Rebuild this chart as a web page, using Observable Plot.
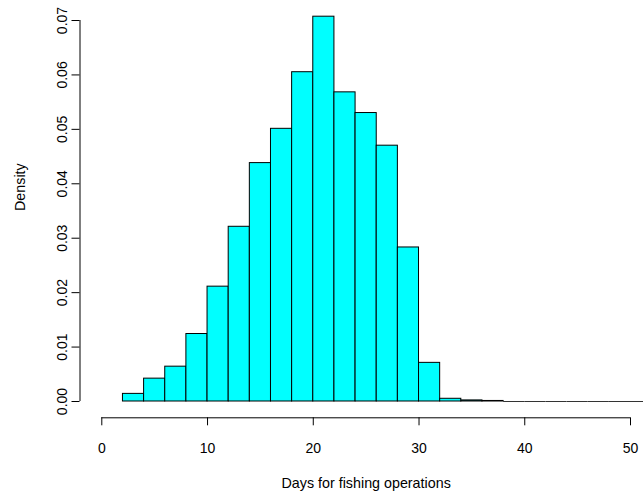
<!DOCTYPE html>
<html>
<head>
<meta charset="utf-8">
<script src="https://cdn.jsdelivr.net/npm/d3@7"></script>
<script src="https://cdn.jsdelivr.net/npm/@observablehq/plot@0.6"></script>
<style>
  html, body { margin: 0; padding: 0; background: #fff; }
</style>
</head>
<body>
<div id="chart"></div>
<script>
// Histogram breaks (days) and densities
const breaks = [2, 4, 6, 8, 10, 12, 14, 16, 18, 20, 22, 24, 26, 28, 30, 32, 34, 36, 38, 40, 42, 44, 46, 48, 50, 52];
const densities = [0.0014, 0.0042, 0.0064, 0.0124, 0.0211, 0.0321, 0.0438, 0.0501, 0.0605, 0.0707,
                   0.0568, 0.0530, 0.0470, 0.0283, 0.0071, 0.0005, 0.0002, 0.0001,
                   0, 0, 0, 0, 0, 0, 0];
const xTicks = [0, 10, 20, 30, 40, 50];
const yTicks = [0.00, 0.01, 0.02, 0.03, 0.04, 0.05, 0.06, 0.07];
const xTitle = "Days for fishing operations";
const yTitle = "Density";

const bins = densities.map((d, i) => ({x0: breaks[i], x1: breaks[i + 1], density: d}));
const emptyBins = bins.filter(b => b.density === 0);

const font = "'Liberation Sans', Arial, Helvetica, sans-serif";

const chart = Plot.plot({
  width: 643,
  height: 497,
  marginLeft: 101.3,
  marginRight: 13,
  marginTop: 20,
  marginBottom: 96,
  style: {fontFamily: font, color: "black", background: "white", overflow: "hidden"},
  x: {domain: [xTicks[0], xTicks[xTicks.length - 1]], axis: null},
  y: {domain: [yTicks[0], yTicks[yTicks.length - 1]], axis: null},
  marks: [
    Plot.rectY(bins, {x1: "x0", x2: "x1", y: "density", fill: "#00ffff", stroke: "black", strokeWidth: 1}),
    // empty bins are drawn by R as a flat outline on the baseline
    Plot.ruleY(emptyBins, {x1: "x0", x2: "x1", y: "density", stroke: "#333", strokeWidth: 1}),
    // x axis
    Plot.ruleY([0], {x1: xTicks[0], x2: xTicks[xTicks.length - 1], dy: 16.3, stroke: "black"}),
    Plot.axisX(xTicks, {tickSize: 8, dy: 16.3, tickPadding: 17, fontSize: 14, tickFormat: d => String(d), label: null, stroke: "black", fill: "black"}),
    // y axis
    Plot.ruleX([0], {y1: yTicks[0], y2: yTicks[yTicks.length - 1], dx: -21.8, stroke: "black"}),
    Plot.axisY(yTicks, {tickSize: 8, dx: -21.8, fill: "none", label: null, stroke: "black"}),
    Plot.text(yTicks, {y: d => d, text: d => d.toFixed(2), frameAnchor: "left", dx: -39.3, rotate: -90, fontSize: 14, fill: "black", textAnchor: "middle", lineAnchor: "middle"}),
    // titles
    Plot.text([yTitle], {text: d => d, frameAnchor: "left", dx: -81.3, rotate: -90, fontSize: 14.3, fill: "black", lineAnchor: "middle"}),
    Plot.text([xTitle], {text: d => d, frameAnchor: "bottom", dy: 82, fontSize: 14.3, fill: "black", lineAnchor: "middle"})
  ]
});

document.getElementById("chart").appendChild(chart);
</script>
</body>
</html>
